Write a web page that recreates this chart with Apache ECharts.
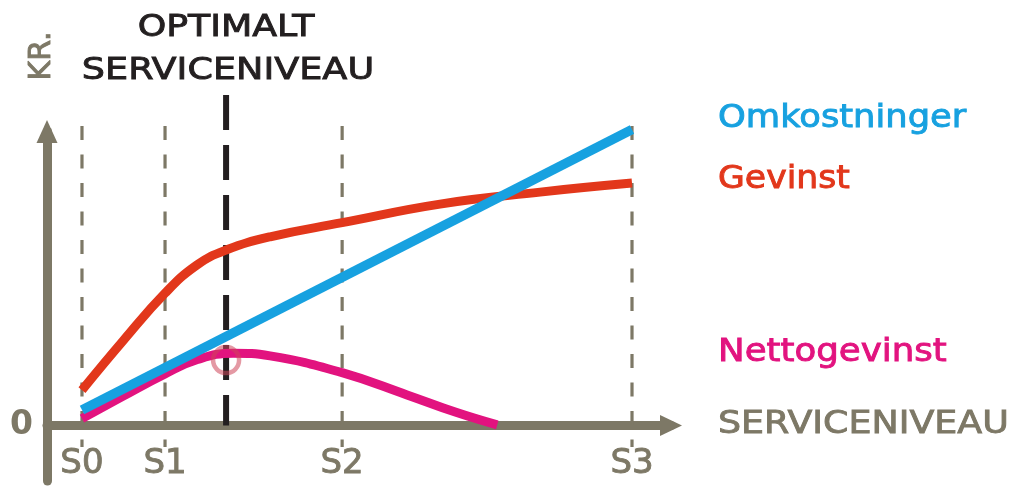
<!DOCTYPE html>
<html><head><meta charset="utf-8">
<script src="https://cdn.jsdelivr.net/npm/echarts@6/dist/echarts.min.js"></script>
<style>html,body{margin:0;padding:0;background:#fff}#c{width:1024px;height:486px}</style>
</head><body><div id="c"></div>
<script>
// Service level positions (S0 = 0, S3 = 100)
const tickValues = [0, 15.1, 47.3, 100];
const tickLabels = ['S0', 'S1', 'S2', 'S3'];
const optimumX = 26.2;

// Omkostninger (costs) – straight line
const costX = [0, 100];
const costY = [5.2, 98.7];

// Gevinst (gain)
const gainX = [0, 7.5, 15.1, 20.9, 26.2, 34.2, 47.3, 65.1, 83.3, 100];
const gainY = [11.8, 28.3, 44.1, 53.5, 58.5, 62.9, 67.6, 73.8, 77.8, 80.8];

// Nettogevinst (net gain)
const netX = [0, 7.5, 15.1, 21, 27.5, 34.2, 47.3, 59.1, 68, 75.5];
const netY = [2.3, 9.8, 17.2, 22.0, 24.1, 23.2, 17.6, 10.2, 4.4, 0.2];
const optimumNet = 21.8;

const seriesNames = ['Omkostninger', 'Gevinst', 'Nettogevinst'];
const colors = ['#17a1e0', '#e2371b', '#e2137f'];
const gray = '#7d7866';
const dark = '#231f20';
const FONT = '"DejaVu Sans"';

const zip = (xs, ys) => xs.map((x, i) => [x, ys[i]]);

const guideSeries = tickValues.map(v => ({
  type: 'line', data: [[v, 99.8], [v, -7.2]], silent: true, clip: false, z: 1, showSymbol: false,
  lineStyle: {color: gray, width: 3.2, type: [14, 14.5], cap: 'butt'}
}));

const txt = (text, x, y, size, color, sx, align, rot) => ({
  type: 'text', x: x, y: y, scaleX: sx, rotation: rot || 0,
  style: {text: text, fill: color, stroke: color, lineWidth: 0.9, font: size + 'px ' + FONT, align: align || 'left', verticalAlign: 'middle'}
});

const chart = echarts.init(document.getElementById('c'), null, {renderer: 'canvas'});
chart.setOption({
  animation: false,
  grid: {left: 47, right: 353, top: 131.5, bottom: 5, containLabel: false, outerBoundsMode: 'none'},
  xAxis: {
    type: 'value', min: -6.36, max: 107.09,
    axisLine: {onZero: true, lineStyle: {color: gray, width: 9}, symbol: ['none', 'triangle'], symbolSize: [21, 22]},
    axisTick: {show: false}, splitLine: {show: false},
    axisLabel: {customValues: tickValues, margin: -34, color: gray, fontFamily: FONT, fontSize: 34,
      textBorderColor: gray, textBorderWidth: 0.9,
      formatter: v => { const i = tickValues.indexOf(v); return i >= 0 ? tickLabels[i] : ''; }}
  },
  yAxis: {
    type: 'value', min: -18.5, max: 98,
    axisLine: {show: true, onZero: false, lineStyle: {color: gray, width: 9}, symbol: ['none', 'triangle'], symbolSize: [21, 23]},
    axisTick: {show: false}, splitLine: {show: false},
    axisLabel: {customValues: [0], margin: 14, color: gray, fontFamily: FONT, fontSize: 33, fontWeight: 'bold',
      formatter: v => String(v)}
  },
  series: guideSeries.concat([
    {
      type: 'line', data: [[optimumX, 110.2], [optimumX, 0]], silent: true, clip: false, z: 3, showSymbol: false,
      lineStyle: {color: dark, width: 6, type: [35, 15], cap: 'butt'}
    },
    {
      name: seriesNames[1], type: 'line', data: zip(gainX, gainY), smooth: 0.45, showSymbol: false, clip: false, z: 4,
      lineStyle: {color: colors[1], width: 9}
    },
    {
      name: seriesNames[2], type: 'line', data: zip(netX, netY), smooth: 0.45, showSymbol: false, clip: false, z: 4,
      lineStyle: {color: colors[2], width: 9},
      markPoint: {
        silent: true, symbol: 'circle', symbolSize: 26, label: {show: false},
        itemStyle: {color: 'rgba(0,0,0,0)', borderColor: 'rgba(205,70,90,0.55)', borderWidth: 4.5},
        data: [{coord: [optimumX, optimumNet]}]
      }
    },
    {
      name: seriesNames[0], type: 'line', data: zip(costX, costY), showSymbol: false, clip: false, z: 5,
      lineStyle: {color: colors[0], width: 9.5}
    }
  ]),
  graphic: [
    txt('OPTIMALT', 226, 28, 31, dark, 1.17, 'center'),
    txt('SERVICENIVEAU', 228, 71, 31, dark, 1.18, 'center'),
    txt('KR.', 42, 56, 30, gray, 1, 'center', Math.PI / 2),
    txt(seriesNames[0], 718, 119, 31.5, colors[0], 1.12),
    txt(seriesNames[1], 718, 180, 31.5, colors[1], 1.1),
    txt(seriesNames[2], 718, 353, 31.5, colors[2], 1.13),
    txt('SERVICENIVEAU', 718, 425, 32.5, gray, 1.12)
  ]
});
</script></body></html>
